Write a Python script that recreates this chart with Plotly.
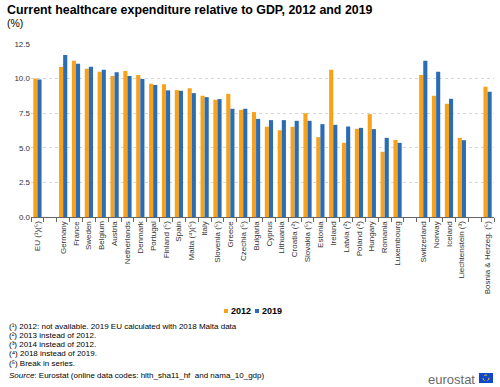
import plotly.graph_objects as go

categories = ["EU (¹)(⁵)", " ", "Germany", "France", "Sweden", "Belgium", "Austria",
              "Netherlands", "Denmark", "Portugal", "Finland (⁵)", "Spain",
              "Malta (⁴)(⁵)", "Italy", "Slovenia (⁵)", "Greece", "Czechia (⁵)",
              "Bulgaria", "Cyprus", "Lithuania", "Croatia (²)", "Slovakia (⁵)",
              "Estonia", "Ireland", "Latvia (²)", "Poland (²)", "Hungary", "Romania",
              "Luxembourg", "  ", "Switzerland", "Norway", "Iceland",
              "Liechtenstein (³)", "   ", "Bosnia & Herzeg. (⁵)"]

v2012 = [10.0, None, 10.83, 11.29, 10.71, 10.50, 10.18, 10.55, 10.26, 9.63, 9.60, 9.17,
         9.31, 8.76, 8.47, 8.90, 7.75, 7.58, 6.52, 6.27, 6.52, 7.50, 5.77, 10.64,
         5.36, 6.37, 7.43, 4.71, 5.57, None, 10.26, 8.76, 8.18, 5.72, None, 9.41]

v2019 = [9.93, None, 11.70, 11.08, 10.86, 10.64, 10.45, 10.18, 9.97, 9.53, 9.15, 9.12,
         8.95, 8.66, 8.52, 7.82, 7.82, 7.09, 7.00, 7.00, 6.95, 6.95, 6.71, 6.66,
         6.54, 6.44, 6.35, 5.72, 5.36, None, 11.29, 10.50, 8.54, 5.55, None, 9.05]

series_names = ["2012", "2019"]
y_ticks = [0, 2.5, 5, 7.5, 10, 12.5]

footnotes = [
    "(¹) 2012: not available. 2019 EU calculated with 2018 Malta data",
    "(²) 2013 instead of 2012.",
    "(³) 2014 instead of 2012.",
    "(⁴) 2018 instead of 2019.",
    "(⁵) Break in series.",
]
source_text = "<i>Source</i>: Eurostat (online data codes: hlth_sha11_hf  and nama_10_gdp)"

ORANGE = "#F8A21C"
BLUE = "#2A6DB5"
COLORS = [ORANGE, BLUE]

W, H = 500, 387
ML, MR, MT, MB = 31, 6, 44, 170
PW, PH = W - ML - MR, H - MT - MB


def px(x):
    return (x - ML) / PW


def py(y):
    return (H - MB - y) / PH


fig = go.Figure()
for name, vals, col in zip(series_names, [v2012, v2019], COLORS):
    fig.add_trace(go.Bar(x=categories, y=vals, name=name,
                         marker=dict(color=col, line=dict(width=0))))

font_family = "Liberation Sans, Arial, sans-serif"

fig.update_layout(
    width=W, height=H,
    margin=dict(l=ML, r=MR, t=MT, b=MB, autoexpand=False),
    paper_bgcolor="white", plot_bgcolor="white",
    barmode="group", bargap=0.36, bargroupgap=0,
    font=dict(family=font_family, size=8, color="#333333"),
    showlegend=False,
    xaxis=dict(type="category", tickangle=-90, tickson="boundaries",
               ticks="outside", ticklen=4, tickcolor="#666666",
               showline=True, linecolor="#666666", linewidth=1,
               showgrid=False, tickfont=dict(size=8, color="#333333")),
    yaxis=dict(range=[0, 12.5], tickvals=y_ticks,
               ticktext=[f"{v:.1f}" for v in y_ticks],
               showgrid=True, gridcolor="#d6d6d6", griddash="dot", gridwidth=1,
               zeroline=False, showline=False, ticks="",
               tickfont=dict(size=8, color="#333333")),
)

ann = []
ann.append(dict(text="<b>Current healthcare expenditure relative to GDP, 2012 and 2019</b>",
                x=px(5), y=py(10), xanchor="left", yanchor="middle",
                font=dict(size=12.4, color="#000000")))
ann.append(dict(text="(%)", x=px(5), y=py(23), xanchor="left", yanchor="middle",
                font=dict(size=10.5, color="#000000")))
ys = [326, 335, 344, 353, 363]
for t, y in zip(footnotes, ys):
    ann.append(dict(text=t, x=px(7), y=py(y), xanchor="left", yanchor="middle",
                    font=dict(size=8, color="#000000")))
ann.append(dict(text=source_text, x=px(7), y=py(375), xanchor="left", yanchor="middle",
                font=dict(size=8, color="#000000")))
ann.append(dict(text="eurostat", x=px(477), y=py(379), xanchor="right", yanchor="middle",
                font=dict(size=13, color="#6b6b6b")))

# compact legend (drawn manually)
leg_x = [224, 255]
for name, col, lx in zip(series_names, COLORS, leg_x):
    fig.add_shape(type="rect", xref="paper", yref="paper",
                  x0=px(lx), x1=px(lx + 4), y0=py(313), y1=py(309),
                  fillcolor=col, line=dict(width=0))
    ann.append(dict(text=f"<b>{name}</b>", x=px(lx + 5), y=py(311),
                    xanchor="left", yanchor="middle",
                    font=dict(size=9, color="#000000")))

for a in ann:
    a.update(xref="paper", yref="paper", showarrow=False)
fig.update_layout(annotations=ann)

# EU flag logo
fig.add_shape(type="rect", xref="paper", yref="paper",
              x0=px(479), x1=px(493), y0=py(383), y1=py(373),
              fillcolor="#0E47CB", line=dict(width=0))
fig.add_shape(type="circle", xref="paper", yref="paper",
              x0=px(483), x1=px(489), y0=py(381), y1=py(375),
              line=dict(color="#FFD617", width=1, dash="dot"))

fig.write_html("out.html", config={"displayModeBar": False},
               post_script="document.body.style.margin='0';document.body.style.overflow='hidden';")
